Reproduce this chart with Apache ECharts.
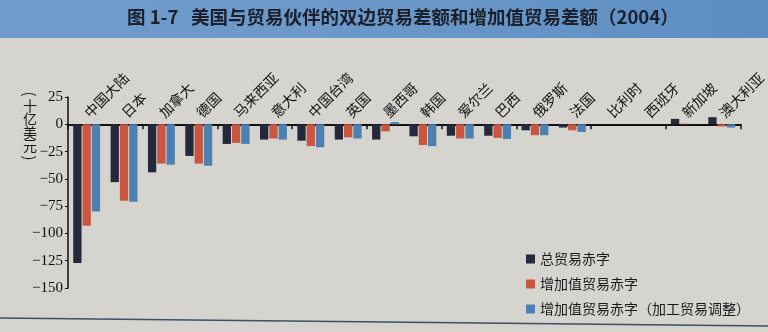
<!DOCTYPE html>
<html>
<head>
<meta charset="utf-8">
<script src="https://cdn.jsdelivr.net/npm/echarts@6/dist/echarts.min.js"></script>
<style>
html,body{margin:0;padding:0;background:#d6d4cf;}
#chart{width:768px;height:332px;}
</style>
</head>
<body>
<div id="chart"></div>
<script>
const categories = ['中国大陆','日本','加拿大','德国','马来西亚','意大利','中国台湾','英国','墨西哥','韩国','爱尔兰','巴西','俄罗斯','法国','比利时','西班牙','新加坡','澳大利亚'];
const grossDeficit = [-127,-53,-44,-29,-18,-14,-15,-14,-14,-11,-10.5,-10.5,-5.5,-3,0,0,5,6.5];
const vaDeficit = [-93,-70,-36,-36,-17,-13,-20,-12,-6.5,-19,-13,-12.5,-10,-5.5,0,0,0.5,-2];
const vaAdjDeficit = [-80,-71,-37,-38,-18,-14,-21,-13,2,-20,-13,-13.5,-10,-7,0,0,0,-3];
const seriesNames = ['总贸易赤字','增加值贸易赤字','增加值贸易赤字（加工贸易调整）'];
const yTicks = {min:-150, max:25, interval:25};
const titleText = '图 1-7   美国与贸易伙伴的双边贸易差额和增加值贸易差额（2004）';
const unitChars = ['(','十','亿','美','元',')'];

const colors = ['#23283a','#c9573f','#4c80b1'];
const chart = echarts.init(document.getElementById('chart'));
const seriesData = [grossDeficit, vaDeficit, vaAdjDeficit];

const unitY = [94, 106, 119, 132.5, 146, 158];
const unitGraphics = unitChars.map((c, i) => {
  const paren = (c === '(' || c === ')');
  return {
    type:'text', x:30, y:unitY[i], z:10,
    rotation: paren ? -Math.PI/2 : 0,
    style:{text:c, fill:'#1a1a1a', fontSize:paren?15:14, fontFamily:'Noto Sans CJK SC',
      align:'center', verticalAlign:'middle'}
  };
});

chart.setOption({
  backgroundColor: '#d6d4cf',
  animation: false,
  color: colors,
  graphic: [
    {type:'rect', left:0, top:0, z:0, shape:{width:768, height:38},
     style:{fill:new echarts.graphic.LinearGradient(0,0,1,0,[
       {offset:0,color:'#6f9ccb'},{offset:0.5,color:'#6a98c8'},{offset:1,color:'#5d8dc2'}])}},
    {type:'text', left:127, top:8, z:10,
     style:{text:titleText, fill:'#1c1f2c', fontSize:18.5, fontWeight:'bold', fontFamily:'Noto Sans CJK SC'}},
    {type:'line', z:1, shape:{x1:0,y1:318,x2:768,y2:326}, style:{stroke:'#3f5066', lineWidth:1.5}}
  ].concat(unitGraphics),
  legend: {
    orient:'vertical', left:521, top:247, itemWidth:9, itemHeight:9, itemGap:11,
    icon:'rect',
    textStyle:{fontSize:14, color:'#1a1a1a', fontFamily:'Noto Sans CJK SC'},
    data: seriesNames
  },
  grid: {left:68, right:13, top:97, bottom:44},
  xAxis: [{
    type:'category', data:categories, position:'bottom',
    axisLine:{onZero:true, lineStyle:{color:'#111', width:2}},
    axisTick:{show:true, inside:false, length:5, lineStyle:{color:'#111', width:1.5}},
    axisLabel:{show:false},
    splitLine:{show:false}
  },{
    type:'category', data:categories, position:'top', offset:-27,
    axisLine:{show:false, onZero:false},
    axisTick:{show:false},
    axisLabel:{rotate:-45, margin:9, fontSize:14, color:'#111', fontFamily:'Noto Sans CJK SC', interval:0},
    splitLine:{show:false}
  }],
  yAxis: {
    type:'value', min:yTicks.min, max:yTicks.max, interval:yTicks.interval,
    axisLine:{show:true, onZero:false, lineStyle:{color:'#111', width:1.5}},
    axisTick:{show:true, length:3, lineStyle:{color:'#111'}},
    axisLabel:{margin:5, fontSize:15, color:'#111', fontFamily:'Liberation Serif',
      formatter: v => String(v).replace('-', '−')},
    splitLine:{show:false}
  },
  series: seriesNames.map((n,i)=>({
    name:n, type:'bar', data:seriesData[i], xAxisIndex:0,
    barGap:'12%', barCategoryGap:'28%',
    itemStyle:{color:colors[i]}
  }))
});
</script>
</body>
</html>
